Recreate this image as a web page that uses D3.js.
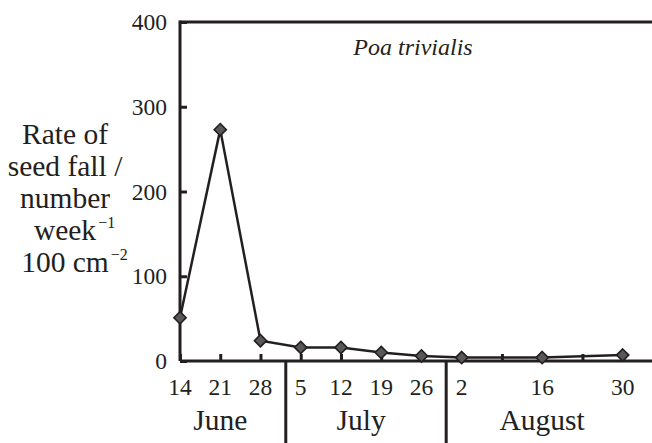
<!DOCTYPE html>
<html>
<head>
<meta charset="utf-8">
<script src="https://cdn.jsdelivr.net/npm/d3@7"></script>
<style>
  body { margin: 0; background: #fff; }
</style>
</head>
<body>
<div id="chart"></div>
<script>
// days counted from 1 June
var sampleDays = [14, 21, 28, 35, 42, 49, 56, 63, 77, 91];
var seedFall   = [51, 273, 24, 16, 16, 10, 6, 4, 4, 7];

var tickDays   = [14, 21, 28, 35, 42, 49, 56, 63, 70, 77, 84, 91];
var tickLabels = ["14", "21", "28", "5", "12", "19", "26", "2", "", "16", "", "30"];

var yTicks = [0, 100, 200, 300, 400];

var months     = ["June", "July", "August"];
var monthMid   = [21, 45.5, 77];
var monthBreak = [32.4, 60.3];

var species = "Poa trivialis";

var width = 652, height = 443;
var margin = {top: 22, left: 180, bottom: 82};
var serif = "'Liberation Serif', 'Times New Roman', Times, 'DejaVu Serif', serif";

var x = d3.scaleLinear().domain([14, 96.1]).range([margin.left, width]);
var y = d3.scaleLinear().domain([0, 400]).range([height - margin.bottom, margin.top]);

var ink = "#231f20";

var svg = d3.select("#chart").append("svg")
    .attr("width", width)
    .attr("height", height)
    .attr("font-family", serif);

// top frame line
svg.append("line")
    .attr("x1", x(14)).attr("x2", width)
    .attr("y1", y(400)).attr("y2", y(400))
    .attr("stroke", ink).attr("stroke-width", 3);

// y axis
var yAxis = svg.append("g")
    .attr("transform", "translate(" + x(14) + ",0)")
    .call(d3.axisRight(y).tickValues(yTicks).tickSize(7).tickFormat(""));
yAxis.select(".domain").remove();
yAxis.selectAll(".tick line").attr("stroke", ink).attr("stroke-width", 3);
svg.append("line")
    .attr("x1", x(14)).attr("x2", x(14))
    .attr("y1", y(400) - 1.5).attr("y2", y(0))
    .attr("stroke", ink).attr("stroke-width", 3);

svg.selectAll(".ylab")
    .data(yTicks)
    .enter().append("text")
    .attr("class", "ylab")
    .attr("x", x(14) - 13)
    .attr("y", function(d) { return y(d); })
    .attr("dy", "0.35em")
    .attr("text-anchor", "end")
    .attr("fill", ink)
    .style("font-size", "23.5px")
    .text(function(d) { return d; });

// x axis
var xAxis = svg.append("g")
    .attr("transform", "translate(0," + y(0) + ")")
    .call(d3.axisTop(x).tickValues(tickDays).tickSize(7).tickFormat(""));
xAxis.select(".domain").remove();
xAxis.selectAll(".tick line").attr("stroke", ink).attr("stroke-width", 3);
svg.append("line")
    .attr("x1", x(14)).attr("x2", width)
    .attr("y1", y(0)).attr("y2", y(0))
    .attr("stroke", ink).attr("stroke-width", 3);

svg.selectAll(".xlab")
    .data(tickDays)
    .enter().append("text")
    .attr("class", "xlab")
    .attr("x", function(d) { return x(d); })
    .attr("y", y(0) + 34)
    .attr("text-anchor", "middle")
    .attr("fill", ink)
    .style("font-size", "23.5px")
    .text(function(d, i) { return tickLabels[i]; });

// month separators and names
svg.selectAll(".mbreak")
    .data(monthBreak)
    .enter().append("line")
    .attr("class", "mbreak")
    .attr("x1", function(d) { return x(d); })
    .attr("x2", function(d) { return x(d); })
    .attr("y1", y(0))
    .attr("y2", height)
    .attr("stroke", ink).attr("stroke-width", 3);

svg.selectAll(".month")
    .data(months)
    .enter().append("text")
    .attr("class", "month")
    .attr("x", function(d, i) { return x(monthMid[i]); })
    .attr("y", y(0) + 69)
    .attr("text-anchor", "middle")
    .attr("fill", ink)
    .style("font-size", "29.5px")
    .text(function(d) { return d; });

// line and markers
var pts = sampleDays.map(function(d, i) { return [d, seedFall[i]]; });

svg.append("path")
    .datum(pts)
    .attr("fill", "none")
    .attr("stroke", ink)
    .attr("stroke-width", 2.5)
    .attr("d", d3.line().x(function(d) { return x(d[0]); }).y(function(d) { return y(d[1]); }));

svg.selectAll(".dot")
    .data(pts)
    .enter().append("path")
    .attr("class", "dot")
    .attr("d", d3.symbol().type(d3.symbolDiamond2).size(95))
    .attr("transform", function(d) { return "translate(" + x(d[0]) + "," + y(d[1]) + ")"; })
    .attr("fill", "#58585a")
    .attr("stroke", ink)
    .attr("stroke-width", 1.6);

// species title
svg.append("text")
    .attr("x", 413)
    .attr("y", 55)
    .attr("text-anchor", "middle")
    .attr("fill", ink)
    .style("font-size", "24px")
    .style("font-style", "italic")
    .text(species);

// y axis label
var labelX = 65;
var labelLines = [
  {t: "Rate of", sup: ""},
  {t: "seed fall /", sup: ""},
  {t: "number", sup: ""},
  {t: "week", sup: "\u22121"},
  {t: "100 cm", sup: "\u22122"}
];
labelLines.forEach(function(l, i) {
  var by = 144 + i * 32;
  var t = svg.append("text")
      .attr("x", labelX)
      .attr("y", by)
      .attr("text-anchor", "middle")
      .attr("fill", ink)
      .style("font-size", "29.5px")
      .text(l.t);
  if (l.sup) {
    var w = t.node().getComputedTextLength();
    svg.append("text")
        .attr("x", labelX + w / 2 + 2)
        .attr("y", by - 12)
        .attr("fill", ink)
        .style("font-size", "16px")
        .text(l.sup);
  }
});
</script>
</body>
</html>
